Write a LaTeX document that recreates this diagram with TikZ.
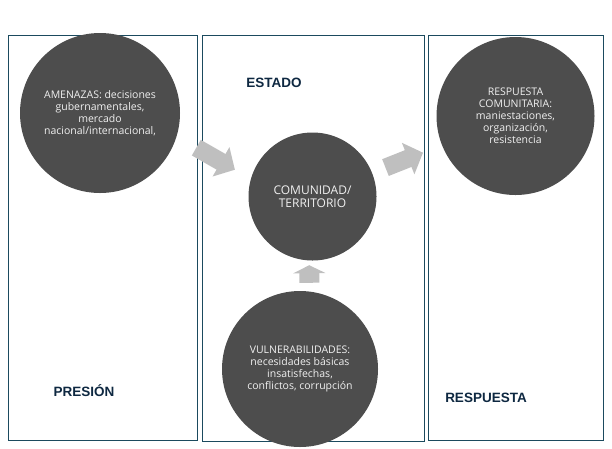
\documentclass[tikz,border=0pt]{standalone}
\usepackage{fontspec}
\setmainfont{Open Sans}
\newfontfamily\etiqfont{Liberation Sans}
\usepackage{xcolor}
\usetikzlibrary{arrows.meta}
\definecolor{borde}{HTML}{1B4A5E}
\definecolor{fondocirc}{HTML}{4D4D4D}
\definecolor{gris}{HTML}{BFBFBF}
\definecolor{titulo}{HTML}{0E2841}

\tikzset{
    panel/.style={draw=borde, line width=0.9pt},
    burbuja/.style={circle, fill=fondocirc, text=white!94!black, inner sep=0pt,
        minimum size=#1, align=center, font=\fontsize{10.5}{12}\selectfont},
    etiqueta/.style={text=titulo, font=\etiqfont\bfseries\fontsize{13.5}{14}\selectfont},
    bloque/.style={draw=gris, line width=18pt, -{Triangle[width=33pt, length=16pt]}}
}

\begin{document}
\begin{tikzpicture}[x=1pt, y=-1pt]
    \useasboundingbox (0,0) rectangle (612,448);

    % paneles
    \draw[panel] (8,35.5) rectangle (197.5,440.5);
    \draw[panel] (202.5,35.5) rectangle (424.3,441.7);
    \draw[panel] (428.3,35.5) rectangle (603.5,440);

    % titulos
    \node[etiqueta] (estado) at (274,83) {ESTADO};
    \node[etiqueta] (presion) at (84,391) {PRESIÓN};
    \node[etiqueta] (respuesta) at (486,398) {RESPUESTA};

    % circulos
    \node[burbuja=160pt] (amen) at (100,113)
        {AMENAZAS: decisiones\\gubernamentales,\\mercado\\nacional/internacional,};
    \node[burbuja=158pt] (resp) at (515.5,116)
        {RESPUESTA\\COMUNITARIA:\\maniestaciones,\\organización,\\resistencia};
    \node[burbuja=128pt, font=\fontsize{12}{13.5}\selectfont] (comun) at (312.5,196.5)
        {COMUNIDAD/\\TERRITORIO};
    \node[burbuja=156pt] (vuln) at (300,369)
        {VULNERABILIDADES:\\necesidades básicas\\insatisfechas,\\conflictos, corrupción};

    % flechas
    \draw[bloque, shorten <=22.6pt, shorten >=18.3pt] (amen.-17) -- (comun.164);
    \draw[bloque, shorten <=14.3pt, shorten >=20.3pt] (comun) -- (resp);
    \draw[bloque, line width=20pt, -{Triangle[width=32pt, length=8pt]},
        shorten <=8.6pt, shorten >=4.6pt] (vuln.83) -- (comun.-93);
\end{tikzpicture}
\end{document}
